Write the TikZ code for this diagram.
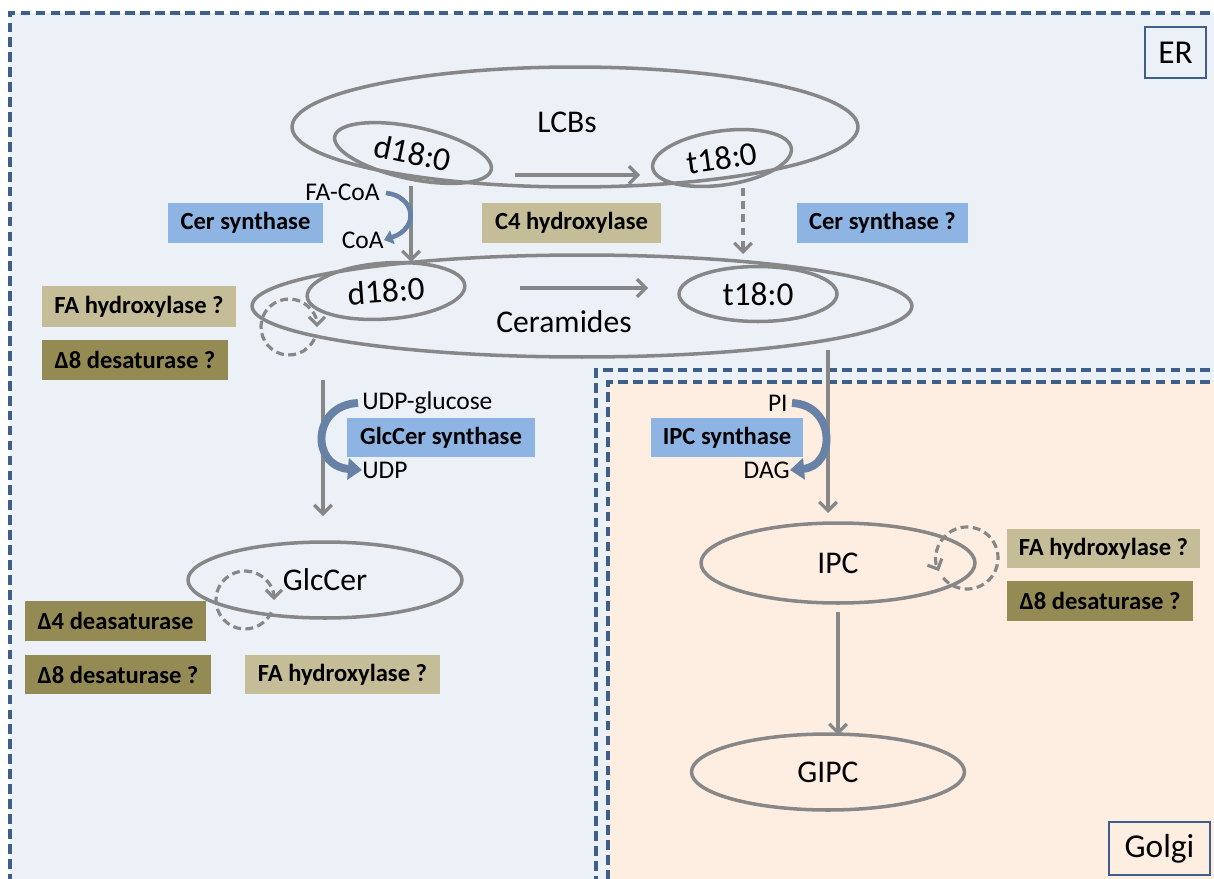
\documentclass[tikz,border=0pt]{standalone}
\usepackage{fontspec}
\setmainfont{Carlito}
\usetikzlibrary{shapes.geometric,arrows.meta}
\definecolor{erbg}{RGB}{236,241,248}
\definecolor{golgibg}{RGB}{253,238,225}
\definecolor{dashblue}{RGB}{62,95,138}
\definecolor{lgray}{RGB}{135,135,135}
\definecolor{bluebox}{RGB}{141,180,226}
\definecolor{tanbox}{RGB}{196,189,151}
\definecolor{olivebox}{RGB}{148,138,84}
\definecolor{arrblue}{RGB}{104,130,165}
\begin{document}
\begin{tikzpicture}[x=0.02cm,y=0.02cm,
  memb/.style={draw=dashblue, line width=2.2pt, dash pattern=on 5.5pt off 3pt},
  lipid/.style={ellipse, draw=lgray, line width=2pt, inner sep=0pt, font=\fontsize{18}{21}\selectfont},
  etext/.style={inner sep=0pt, font=\fontsize{18}{21}\selectfont},
  conn/.style={draw=lgray, line width=1.9pt, -{Straight Barb[length=5pt,width=10pt]}},
  dconn/.style={conn, dash pattern=on 4.5pt off 3pt},
  dcirc/.style={draw=lgray, line width=1.8pt, dash pattern=on 4.5pt off 2.5pt, -{Straight Barb[length=4.5pt,width=9pt]}},
  enz/.style={rectangle, inner sep=0pt, font=\fontsize{14}{16}\selectfont\bfseries},
  bluee/.style={enz, fill=bluebox},
  tane/.style={enz, fill=tanbox},
  olivee/.style={enz, fill=olivebox},
  small/.style={inner sep=0pt, font=\fontsize{14.5}{16}\selectfont},
  comp/.style={inner sep=0pt, draw=dashblue, line width=1.3pt, font=\fontsize{19}{22}\selectfont},
  bend/.style={draw=arrblue, line width=#1},
]
\useasboundingbox (0,0) rectangle (1214,-879);
\clip (0,0) rectangle (1214,-879);
\fill[white] (0,0) rectangle (1214,-879);
\fill[erbg] (10,-13) rectangle (1240,-900);
\draw[memb] (1240,-13) -- (10,-13) -- (10,-900);
\fill[golgibg] (608,-382) rectangle (1240,-900);
\draw[memb] (1240,-370) -- (596,-370) -- (596,-900);
\draw[memb] (1240,-382) -- (608,-382) -- (608,-900);

% compartment labels
\node[comp, fill=erbg, minimum width=1.22cm, minimum height=1.02cm] (er) at (1175.5,-52.5) {ER};
\node[comp, fill=golgibg, minimum width=2.02cm, minimum height=1.06cm] (golgi) at (1159.5,-848.5) {Golgi};

% lipid pools
\node[lipid, minimum width=11.32cm, minimum height=2.4cm] (lcb) at (575,-127) {};
\node[etext] (lcbt) at (567,-122) {LCBs};
\node[lipid, minimum width=3.2cm, minimum height=1.04cm, rotate=-12, font=\fontsize{19}{22}\selectfont] (d1) at (413,-153) {d18:0};
\node[lipid, minimum width=2.8cm, minimum height=1.08cm, rotate=8, font=\fontsize{19}{22}\selectfont] (t1) at (722,-158) {t18:0};
\node[lipid, minimum width=13.2cm, minimum height=2.04cm] (cer) at (582,-306) {};
\node[etext] (cert) at (564,-322) {Ceramides};
\node[lipid, minimum width=3.16cm, minimum height=1.12cm, rotate=4, font=\fontsize{19}{22}\selectfont] (d2) at (386,-291) {d18:0};
\node[lipid, minimum width=3.16cm, minimum height=1.1cm, font=\fontsize{19}{22}\selectfont] (t2) at (758,-294) {t18:0};
\node[lipid, minimum width=5.48cm, minimum height=1.52cm] (glc) at (325,-580) {GlcCer};
\node[lipid, minimum width=5.48cm, minimum height=1.6cm] (ipc) at (838,-563) {IPC};
\node[lipid, minimum width=5.46cm, minimum height=1.52cm] (gipc) at (828,-772) {GIPC};

% enzymes
\node[bluee, minimum width=3.1cm, minimum height=0.8cm] (cers1) at (245.5,-223) {Cer synthase};
\node[tane, minimum width=3.58cm, minimum height=0.8cm] (c4h) at (571.5,-223) {C4 hydroxylase};
\node[bluee, minimum width=3.42cm, minimum height=0.8cm] (cers2) at (882.5,-223) {Cer synthase ?};
\node[tane, minimum width=3.88cm, minimum height=0.82cm] (fah1) at (139,-306.5) {FA hydroxylase ?};
\node[olivee, minimum width=3.72cm, minimum height=0.8cm] (d8a) at (135,-360) {Δ8 desaturase ?};
\node[bluee, minimum width=3.76cm, minimum height=0.78cm] (gcs) at (441,-437.5) {GlcCer synthase};
\node[bluee, minimum width=3.04cm, minimum height=0.78cm] (ipcs) at (727,-437.5) {IPC synthase};
\node[tane, minimum width=3.86cm, minimum height=0.78cm] (fah2) at (1103.5,-548.5) {FA hydroxylase ?};
\node[olivee, minimum width=3.72cm, minimum height=0.8cm] (d8b) at (1100,-601) {Δ8 desaturase ?};
\node[olivee, minimum width=3.62cm, minimum height=0.8cm] (d4) at (115.5,-621) {Δ4 deasaturase};
\node[olivee, minimum width=3.72cm, minimum height=0.78cm] (d8c) at (118,-674.5) {Δ8 desaturase ?};
\node[tane, minimum width=3.9cm, minimum height=0.78cm] (fah3) at (342.5,-674.5) {FA hydroxylase ?};

% co-substrates
\node[small, anchor=east] (facoa) at (380,-192) {FA-CoA};
\node[small, anchor=east] (coa) at (384,-240) {CoA};
\node[small, anchor=west] (udpg) at (362,-403) {UDP-glucose};
\node[small, anchor=west] (udp) at (362,-470) {UDP};
\node[small, anchor=east] (pi) at (788,-403) {PI};
\node[small, anchor=east] (dag) at (790,-470) {DAG};

% connector end points
\coordinate (a1s) at (411,-186);
\coordinate (a1e) at (411,-262);
\coordinate (a2s) at (743,-188);
\coordinate (a2e) at (743,-254);
\coordinate (a3s) at (515,-175);
\coordinate (a3e) at (640,-175);
\coordinate (a4s) at (520,-288);
\coordinate (a4e) at (648,-288);
\coordinate (a5s) at (323,-380);
\coordinate (a5e) at (323,-516);
\coordinate (a6s) at (828,-350);
\coordinate (a6e) at (828,-513);
\coordinate (a7s) at (838,-612);
\coordinate (a7e) at (838,-735);

\draw[conn] (a1s) -- (a1e);
\draw[dconn] (a2s) -- (a2e);
\draw[conn] (a3s) -- (a3e);
\draw[conn] (a4s) -- (a4e);
\draw[conn] (a5s) -- (a5e);
\draw[conn] (a6s) -- (a6e);
\draw[conn] (a7s) -- (a7e);

% co-substrate bends
\draw[bend=2.6pt, -{Triangle[length=5pt,width=8pt]}] (facoa.east) ++(6,-1) .. controls (415,-196) and (420,-228) .. (coa.east);
\draw[bend=4.5pt, -{Triangle[length=8pt,width=12pt]}] (udpg.west) ++(-4,0) .. controls (312,-405) and (310,-466) .. (udp.west);
\draw[bend=4.5pt, -{Triangle[length=8pt,width=12pt]}] (pi.east) ++(4,0) .. controls (836,-405) and (836,-466) .. (dag.east);

% modification loops
\coordinate (l1) at (289,-327);
\coordinate (l2) at (245,-600);
\coordinate (l3) at (967,-558);
\draw[dcirc] (l1) ++(335:28) arc[start angle=335, end angle=0, radius=28];
\draw[dcirc] (l2) ++(335:29) arc[start angle=335, end angle=0, radius=29];
\draw[dcirc] (l3) ++(-140:31) arc[start angle=-140, end angle=205, radius=31];
\end{tikzpicture}
\end{document}
